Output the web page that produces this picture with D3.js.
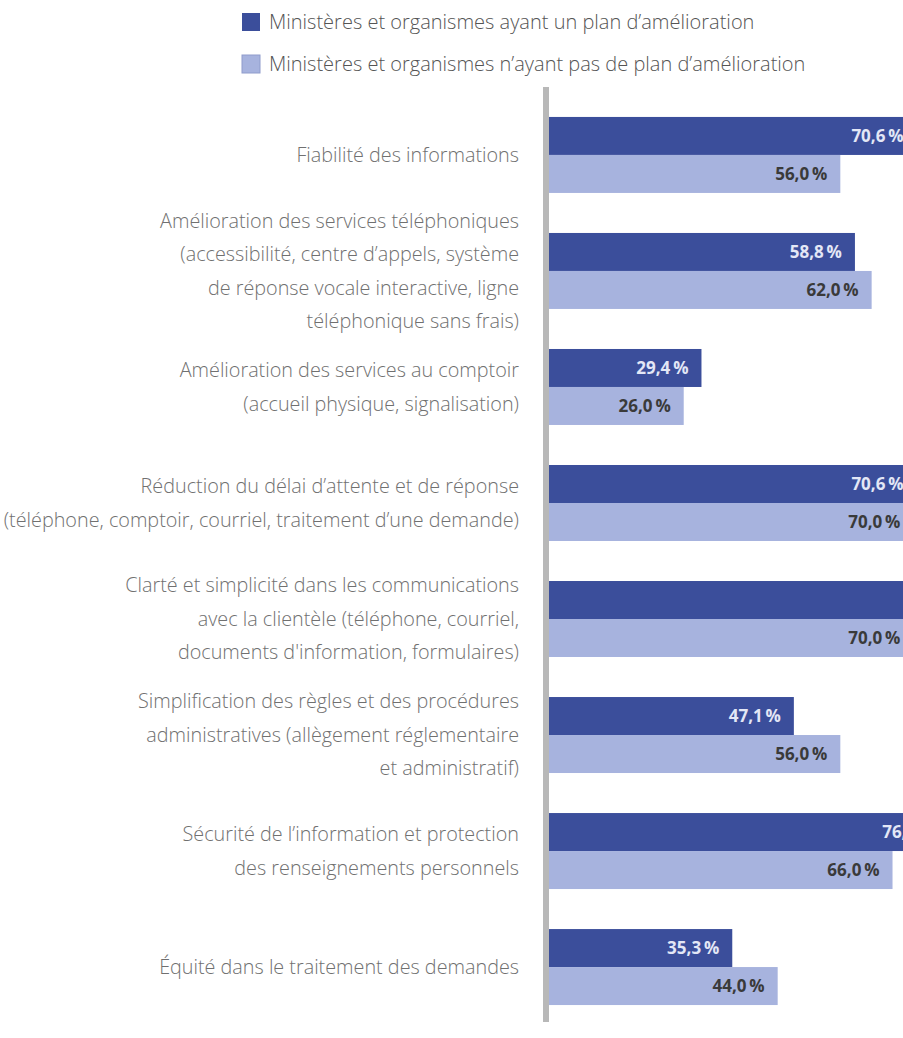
<!DOCTYPE html>
<html>
<head>
<meta charset="utf-8">
<script src="https://cdn.jsdelivr.net/npm/d3@7"></script>
<style>
  body { margin: 0; background: #fff; }
  svg { display: block; font-family: "Open Sans", sans-serif; }
</style>
</head>
<body>
<svg id="chart" width="903" height="1038"></svg>
<script>
// categories (one entry per line of the label)
var categories = [
    ["Fiabilité des informations"],
    ["Amélioration des services téléphoniques", "(accessibilité, centre d’appels, système", "de réponse vocale interactive, ligne", "téléphonique sans frais)"],
    ["Amélioration des services au comptoir", "(accueil physique, signalisation)"],
    ["Réduction du délai d’attente et de réponse", "(téléphone, comptoir, courriel, traitement d’une demande)"],
    ["Clarté et simplicité dans les communications", "avec la clientèle (téléphone, courriel,", "documents d'information, formulaires)"],
    ["Simplification des règles et des procédures", "administratives (allègement réglementaire", "et administratif)"],
    ["Sécurité de l’information et protection", "des renseignements personnels"],
    ["Équité dans le traitement des demandes"]
];
var seriesNames = [
    "Ministères et organismes ayant un plan d’amélioration",
    "Ministères et organismes n’ayant pas de plan d’amélioration"
];
var withPlan = [70.6, 58.8, 29.4, 70.6, 82.4, 47.1, 76.5, 35.3];
var withoutPlan = [56.0, 62.0, 26.0, 70.0, 70.0, 56.0, 66.0, 44.0];
var colors = ["#3b4e9b", "#a7b3de"];
var labelColors = ["#e3e7f6", "#3a3a3a"];

var svg = d3.select("#chart");
var x0 = 548;

var x = d3.scaleLinear().domain([0, 100]).range([x0, x0 + 522]);
var y = d3.scaleBand().domain(d3.range(categories.length))
    .range([97, 1025]).paddingInner(0.345).paddingOuter(0.172);
var ySub = d3.scaleBand().domain([0, 1]).range([0, y.bandwidth()]);

var fr = d3.formatLocale({ decimal: ",", thousands: " ", grouping: [3], currency: ["", ""] });
var fmt = fr.format(".1f");

// legend
var legend = svg.append("g");
seriesNames.forEach(function (name, i) {
    var ly = 22 + i * 42;
    legend.append("rect").attr("x", 242).attr("y", ly - 9).attr("width", 18).attr("height", 18)
        .attr("fill", colors[i]).attr("stroke", i ? "#8f9ccc" : "none").attr("stroke-width", 1);
    legend.append("text").attr("x", 269).attr("y", ly).attr("dy", "0.35em")
        .attr("font-size", 20).attr("font-weight", 300).attr("fill", "#555").text(name);
});

// bars
var data = categories.map(function (c, i) { return [withPlan[i], withoutPlan[i]]; });
var groups = svg.selectAll("g.grp").data(data).enter().append("g")
    .attr("class", "grp")
    .attr("transform", function (d, i) { return "translate(0," + y(i) + ")"; });

groups.selectAll("rect").data(function (d) { return d; }).enter().append("rect")
    .attr("x", x0)
    .attr("y", function (d, j) { return ySub(j); })
    .attr("width", function (d) { return x(d) - x0; })
    .attr("height", ySub.bandwidth())
    .attr("fill", function (d, j) { return colors[j]; });

groups.selectAll("text.val").data(function (d) { return d; }).enter().append("text")
    .attr("class", "val")
    .attr("x", function (d) { return x(d) - 13; })
    .attr("y", function (d, j) { return ySub(j) + ySub.bandwidth() / 2; })
    .attr("dy", "0.35em")
    .attr("text-anchor", "end")
    .attr("font-size", 17).attr("font-weight", "bold")
    .attr("fill", function (d, j) { return labelColors[j]; })
    .text(function (d) { return fmt(d) + "\u2009%"; });

// category labels
var lineH = 33.5;
svg.selectAll("text.cat").data(categories).enter().append("text")
    .attr("class", "cat")
    .attr("text-anchor", "end")
    .attr("font-size", 19.8)
    .attr("font-weight", 300)
    .attr("fill", "#707070")
    .each(function (lines, i) {
        var cy = y(i) + y.bandwidth() / 2;
        var t = d3.select(this);
        lines.forEach(function (l, k) {
            t.append("tspan").attr("x", 519)
                .attr("y", cy + (k - (lines.length - 1) / 2) * lineH)
                .attr("dy", "0.35em").text(l);
        });
    });

// axis line
svg.append("line").attr("x1", x0 - 2).attr("x2", x0 - 2).attr("y1", 87).attr("y2", 1022)
    .attr("stroke", "#b8b8b8").attr("stroke-width", 6);
</script>
</body>
</html>
